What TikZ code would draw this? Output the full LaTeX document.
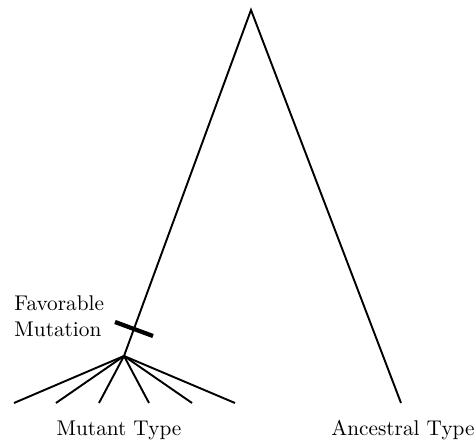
\documentclass[tikz,border=0pt]{standalone}
\begin{document}
\begin{tikzpicture}[x=0.47pt,y=-0.47pt,
  branch/.style={line width=0.9pt},
  mutbar/.style={line width=2pt},
  lbl/.style={font=\normalsize, inner sep=0pt}]
\useasboundingbox (0,0) rectangle (474,442);
\coordinate (apex) at (251,10);
\coordinate (split) at (124,356);
\coordinate (anc) at (401,403);
\foreach \i/\x in {1/14,2/56,3/99,4/149,5/192,6/235}{
  \coordinate (m\i) at (\x,403);
}
\coordinate (b1) at (115,322);
\coordinate (b2) at (153,336);
\draw[branch] (split) -- (apex) -- (anc);
\foreach \i in {1,...,6}{ \draw[branch] (split) -- (m\i); }
\draw[mutbar] (b1) -- (b2);
\node[lbl, anchor=west, align=left] (fav) at (14,316) {Favorable\\Mutation};
\node[lbl, anchor=base] (mt) at (119,436) {Mutant Type};
\node[lbl, anchor=base] (at) at (403,436) {Ancestral Type};
\end{tikzpicture}
\end{document}
